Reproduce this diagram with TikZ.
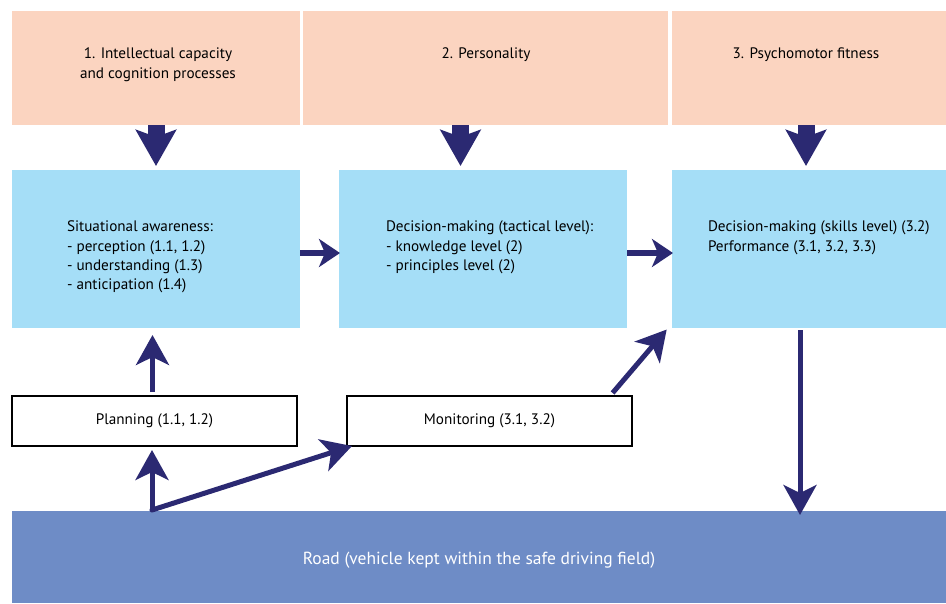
\documentclass[tikz,border=0pt]{standalone}
\usepackage{fontspec}
\setmainfont{PT Sans}
\usetikzlibrary{arrows.meta}
\definecolor{peach}{HTML}{FBD4C0}
\definecolor{lblue}{HTML}{A5DEF7}
\definecolor{road}{HTML}{6E8CC6}
\definecolor{navy}{HTML}{2B2972}
\tikzset{
  box/.style={draw=none, inner sep=0pt, outer sep=0pt},
  pbox/.style={box, fill=peach},
  bbox/.style={box, fill=lblue},
  wbox/.style={draw=black, line width=2pt, fill=white, inner sep=0pt, outer sep=0pt, font=\fontsize{15.2}{19}\selectfont},
  txt/.style={inner sep=0pt, outer sep=0pt, font=\fontsize{15.2}{19.3}\selectfont},
  fat/.style={navy, line width=17pt, -{Stealth[length=36pt, width=40pt, inset=7pt]}},
  harrow/.style={navy, line width=6pt, -{Stealth[length=21pt, width=28pt, inset=6pt]}},
  varrow/.style={navy, line width=5pt, -{Stealth[length=30pt, width=33pt, inset=8pt]}},
}
\begin{document}
\begin{tikzpicture}[x=1pt, y=-1pt]
\useasboundingbox (0,0) rectangle (946,603);
% top boxes
\node[pbox, minimum width=288pt, minimum height=114pt] (p1) at (156,68) {};
\node[pbox, minimum width=365pt, minimum height=114pt] (p2) at (485.5,68) {};
\node[pbox, minimum width=274pt, minimum height=114pt] (p3) at (809,68) {};
\node[txt, align=center, anchor=north] (t1) at (158,48) {1. Intellectual capacity\\and cognition processes};
\node[txt, anchor=north] (t2) at (486,48) {2. Personality};
\node[txt, anchor=north] (t3) at (806,48) {3. Psychomotor fitness};
% blue boxes
\node[bbox, minimum width=288pt, minimum height=158pt] (b1) at (156,249) {};
\node[bbox, minimum width=288pt, minimum height=158pt] (b2) at (483,249) {};
\node[bbox, minimum width=274pt, minimum height=158pt] (b3) at (809,249) {};
\node[txt, align=left, anchor=north west] (s1) at (67,221) {Situational awareness:\\- perception (1.1, 1.2)\\- understanding (1.3)\\- anticipation (1.4)};
\node[txt, align=left, anchor=north west] (s2) at (386,221) {Decision-making (tactical level):\\- knowledge level (2)\\- principles level (2)};
\node[txt, align=left, anchor=north west] (s3) at (708,221) {Decision-making (skills level) (3.2)\\Performance (3.1, 3.2, 3.3)};
% white boxes
\node[wbox, minimum width=285pt, minimum height=50pt] (plan) at (154.5,421) {Planning (1.1, 1.2)};
\node[wbox, minimum width=285pt, minimum height=50pt] (mon) at (489.5,421) {Monitoring (3.1, 3.2)};
% road
\node[box, fill=road, minimum width=934pt, minimum height=92pt] (road) at (479,557) {};
\node[txt, text=white, font=\fontsize{17.5}{20}\selectfont] (roadtxt) at (479,560) {Road (vehicle kept within the safe driving field)};
\coordinate (fork) at (152,510);
% arrows
\draw[fat, shorten >=4pt] (p1.south) -- (b1.north);
\draw[fat, shorten >=4pt] ([xshift=-25pt]p2.south) -- ([xshift=-25pt]p2.south |- b2.north);
\draw[fat, shorten >=4pt] ([xshift=-3pt]p3.south) -- ([xshift=-3pt]b3.north);
\draw[harrow, shorten >=-1pt] ([yshift=-4pt]b1.east) -- ([yshift=-4pt]b2.west);
\draw[harrow, shorten >=-1pt] ([yshift=-4pt]b2.east) -- ([yshift=-4pt]b3.west);
\draw[varrow, shorten <=4pt, shorten >=7pt] ([xshift=-2pt]plan.north) -- ([xshift=-2pt]plan.north |- b1.south);
\draw[varrow, shorten >=4pt] (fork) -- (fork |- plan.south);
\draw[varrow, line cap=round] (fork) -- ([xshift=5pt]mon.south west);
\draw[varrow, shorten <=4pt, shorten >=2pt] ([xshift=-22pt]mon.north east) -- ([xshift=-4pt]b3.south west);
\draw[varrow, shorten <=2pt, shorten >=-4pt] ([xshift=-9pt]b3.south) -- ([xshift=-9pt]b3.south |- road.north);
\end{tikzpicture}
\end{document}
